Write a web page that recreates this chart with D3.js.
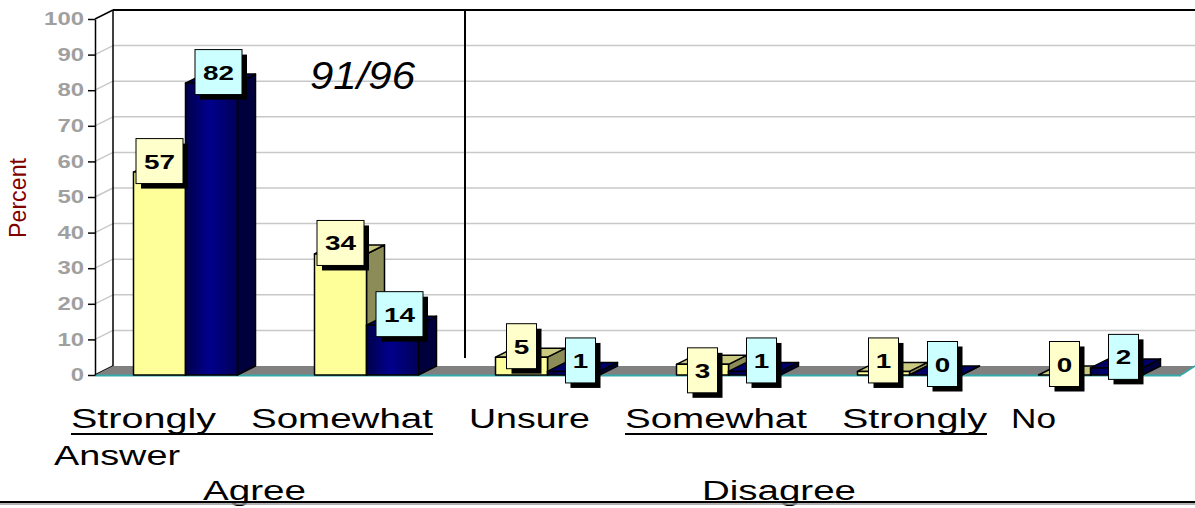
<!DOCTYPE html>
<html>
<head>
<meta charset="utf-8">
<script src="https://cdn.jsdelivr.net/npm/d3@7"></script>
<style>
  body { margin: 0; background: #fff; }
  svg { display: block; }
</style>
</head>
<body>
<svg id="chart" width="1195" height="508"></svg>
<script>
// data
const categories = ["Strongly Agree", "Somewhat Agree", "Unsure", "Somewhat Disagree", "Strongly Disagree", "No Answer"];
const seriesA = [57, 34, 5, 3, 1, 0];   // 91 (yellow)
const seriesB = [82, 14, 1, 1, 0, 2];   // 96 (navy)
const yTicks = [0, 10, 20, 30, 40, 50, 60, 70, 80, 90, 100];

const W = 1195, H = 508;
const svg = d3.select("#chart");

// 3D depth of the plot
const dx = 18, dy = -9;

const x = d3.scaleBand().domain(categories).range([95, 1181]);
const xs = d3.scaleBand().domain([0, 1]).range([38.5, 142.5]);
const y = d3.scaleLinear().domain([0, 100]).range([375, 19]);

// back wall gridlines
svg.append("g").selectAll("line")
    .data(yTicks.filter(d => d > 0 && d < 100))
    .join("line")
    .attr("x1", 95 + dx).attr("x2", W)
    .attr("y1", d => y(d) + dy).attr("y2", d => y(d) + dy)
    .attr("stroke", "#c8c8c8").attr("stroke-width", 1.5);

// side wall diagonals
svg.append("g").selectAll("line")
    .data(yTicks)
    .join("line")
    .attr("x1", 95).attr("y1", d => y(d))
    .attr("x2", 95 + dx).attr("y2", d => y(d) + dy)
    .attr("stroke", d => (d === 0 || d === 100) ? "#000" : "#c8c8c8")
    .attr("stroke-width", 1.5);

// back wall edges
svg.append("line")
    .attr("x1", 95 + dx).attr("x2", 95 + dx)
    .attr("y1", y(100) + dy).attr("y2", y(0) + dy)
    .attr("stroke", "#000").attr("stroke-width", 1.5);
svg.append("line")
    .attr("x1", 95 + dx).attr("x2", W)
    .attr("y1", y(100) + dy).attr("y2", y(100) + dy)
    .attr("stroke", "#000").attr("stroke-width", 2);

// floor
const fx0 = x.range()[0], fx1 = x.range()[1];
svg.append("polygon")
    .attr("points", [[fx0, y(0)], [fx0 + dx, y(0) + dy], [W, y(0) + dy], [fx1, y(0)]].join(" "))
    .attr("fill", "#808080");
svg.append("line")
    .attr("x1", fx0).attr("x2", fx1)
    .attr("y1", y(0) + 0.5).attr("y2", y(0) + 0.5)
    .attr("stroke", "#33a9a9").attr("stroke-width", 2);
svg.append("line")
    .attr("x1", fx1).attr("y1", y(0))
    .attr("x2", W).attr("y2", y(0) + dy)
    .attr("stroke", "#33a9a9").attr("stroke-width", 1.5);

// y axis (glyphs are stretched wide in the original)
const yAxis = svg.append("g")
    .attr("transform", "translate(95,0)")
    .call(d3.axisLeft(y).tickValues(yTicks).tickSize(7).tickSizeOuter(0).tickPadding(4));
yAxis.select(".domain").attr("stroke", "#000").attr("stroke-width", 1.5);
yAxis.selectAll(".tick line").attr("stroke", "#000").attr("stroke-width", 1.5);
yAxis.selectAll(".tick text")
    .attr("fill", "#a0a0a0")
    .attr("textLength", d => String(d).length * 13.3)
    .attr("lengthAdjust", "spacingAndGlyphs")
    .style("font", "bold 18px 'Liberation Sans', Arial, sans-serif");

svg.append("text")
    .attr("transform", "translate(26,198) rotate(-90)")
    .attr("text-anchor", "middle")
    .attr("fill", "#800000")
    .attr("textLength", 80)
    .attr("lengthAdjust", "spacingAndGlyphs")
    .style("font", "23px 'Liberation Sans', Arial, sans-serif")
    .text("Percent");

// navy front gradient
const defs = svg.append("defs");
const grad = defs.append("linearGradient").attr("id", "navyGrad");
grad.append("stop").attr("offset", "0%").attr("stop-color", "#00004a");
grad.append("stop").attr("offset", "45%").attr("stop-color", "#00008c");
grad.append("stop").attr("offset", "100%").attr("stop-color", "#000058");

const styles = [
    { front: "#ffff99", top: "#c9c981", side: "#8c8c58", label: "#ffffcc" },
    { front: "url(#navyGrad)", top: "#000066", side: "#00003c", label: "#ccffff" }
];

const bars = [];
categories.forEach((c, i) => {
    [seriesA[i], seriesB[i]].forEach((v, s) => {
        bars.push({ cat: c, s: s, v: v });
    });
});

const bw = xs.bandwidth();
const gBars = svg.append("g");
bars.forEach(b => {
    const x0 = x(b.cat) + xs(b.s), x1 = x0 + bw;
    const yt = y(b.v), yb = y(0);
    const st = styles[b.s];
    const g = gBars.append("g")
        .attr("stroke", "#000").attr("stroke-width", 1.5).attr("stroke-linejoin", "round");
    g.append("polygon")
        .attr("points", [[x1, yt], [x1 + dx, yt + dy], [x1 + dx, yb + dy], [x1, yb]].join(" "))
        .attr("fill", st.side);
    g.append("polygon")
        .attr("points", [[x0, yt], [x0 + dx, yt + dy], [x1 + dx, yt + dy], [x1, yt]].join(" "))
        .attr("fill", st.top);
    if (b.v > 0) {
        g.append("rect")
            .attr("x", x0).attr("y", yt)
            .attr("width", bw).attr("height", yb - yt)
            .attr("fill", st.front);
    }
});

// divider between agree and the rest
svg.append("line")
    .attr("x1", 465).attr("x2", 465)
    .attr("y1", y(100) + dy).attr("y2", 358)
    .attr("stroke", "#000").attr("stroke-width", 2);

svg.append("text")
    .attr("x", 310).attr("y", 89)
    .attr("textLength", 105)
    .attr("lengthAdjust", "spacingAndGlyphs")
    .style("font", "italic 39px 'Liberation Sans', Arial, sans-serif")
    .text("91/96");

// value labels
const gLab = svg.append("g");
bars.forEach(b => {
    const txt = String(b.v);
    const w = txt.length > 1 ? 47 : 30, h = 45;
    const cx = x(b.cat) + xs(b.s) + bw / 2 + (b.s === 1 ? 7 : 0);
    // small yellow bar labels get pushed down in the original
    const cy = (b.s === 0 && b.v > 1 && b.v < 5) ? y(b.v) + 6 : y(b.v) - 11;
    gLab.append("rect")
        .attr("x", cx - w / 2 + 5).attr("y", cy - h / 2 + 5)
        .attr("width", w).attr("height", h)
        .attr("fill", "#000");
    gLab.append("rect")
        .attr("x", cx - w / 2).attr("y", cy - h / 2)
        .attr("width", w).attr("height", h)
        .attr("fill", styles[b.s].label)
        .attr("stroke", "#000").attr("stroke-width", 1);
    gLab.append("text")
        .attr("x", cx).attr("y", cy + 7.5)
        .attr("text-anchor", "middle")
        .attr("textLength", txt.length * 15.5)
        .attr("lengthAdjust", "spacingAndGlyphs")
        .style("font", "bold 21px 'Liberation Sans', Arial, sans-serif")
        .text(txt);
});

// category labels under the floor
const catWords = [
    { t: "Strongly", x0: 71, x1: 216, yb: 428 },
    { t: "Somewhat", x0: 251, x1: 433, yb: 428 },
    { t: "Unsure", x0: 469, x1: 590, yb: 428 },
    { t: "Somewhat", x0: 625, x1: 807, yb: 428 },
    { t: "Strongly", x0: 842, x1: 987, yb: 428 },
    { t: "No", x0: 1011, x1: 1056, yb: 428 },
    { t: "Answer", x0: 54, x1: 180, yb: 465 },
    { t: "Agree", x0: 203, x1: 306, yb: 500 },
    { t: "Disagree", x0: 702, x1: 856, yb: 500 }
];
svg.append("g").selectAll("text")
    .data(catWords)
    .join("text")
    .attr("x", d => d.x0).attr("y", d => d.yb)
    .attr("textLength", d => d.x1 - d.x0)
    .attr("lengthAdjust", "spacingAndGlyphs")
    .style("font", "27px 'Liberation Sans', Arial, sans-serif")
    .text(d => d.t);

svg.append("line").attr("x1", 71).attr("x2", 433).attr("y1", 434).attr("y2", 434)
    .attr("stroke", "#000").attr("stroke-width", 2);
svg.append("line").attr("x1", 625).attr("x2", 987).attr("y1", 434).attr("y2", 434)
    .attr("stroke", "#000").attr("stroke-width", 2);

svg.append("line").attr("x1", 0).attr("x2", W).attr("y1", 502).attr("y2", 502)
    .attr("stroke", "#000").attr("stroke-width", 2);
svg.append("line").attr("x1", 0).attr("x2", W).attr("y1", 504).attr("y2", 504)
    .attr("stroke", "#999").attr("stroke-width", 1.5);
</script>
</body>
</html>
